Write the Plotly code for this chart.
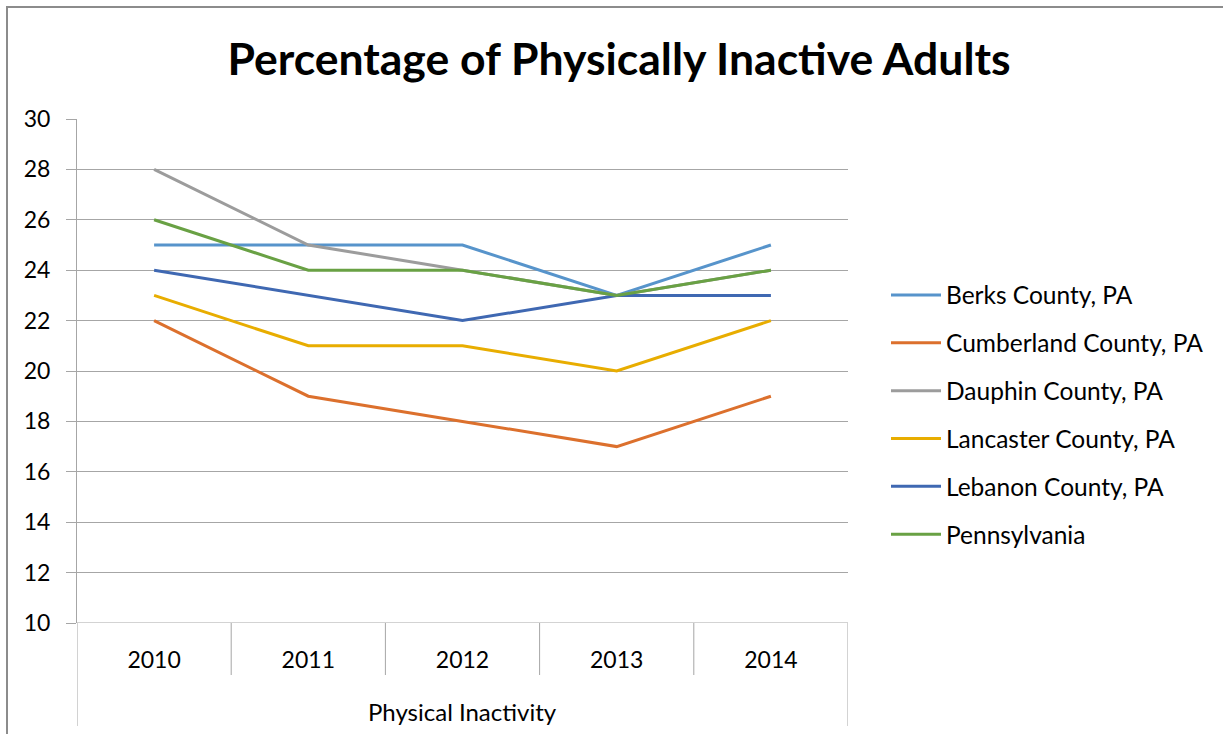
import plotly.graph_objects as go

years = ["2010", "2011", "2012", "2013", "2014"]
series_names = [
    "Berks County, PA",
    "Cumberland County, PA",
    "Dauphin County, PA",
    "Lancaster County, PA",
    "Lebanon County, PA",
    "Pennsylvania",
]
berks = [25, 25, 25, 23, 25]
cumberland = [22, 19, 18, 17, 19]
dauphin = [28, 25, 24, 23, 24]
lancaster = [23, 21, 21, 20, 22]
lebanon = [24, 23, 22, 23, 23]
pennsylvania = [26, 24, 24, 23, 24]
series_values = [berks, cumberland, dauphin, lancaster, lebanon, pennsylvania]
colors = ["#5794CB", "#DC702D", "#9C9C9C", "#E8AD00", "#3F68B2", "#69A144"]

FONT = "Lato"
GRID = "#A6A6A6"

W, H = 1223, 734
L, R, T, B = 77, 848, 119, 623  # plot area in pixels

fig = go.Figure()
for name, vals, col in zip(series_names, series_values, colors):
    fig.add_trace(go.Scatter(
        x=years, y=vals, name=name, mode="lines",
        line=dict(color=col, width=3),
        legendgroup=name,
    ))

def px_x(p):
    return (p - L) / (R - L)

def px_y(p):
    return (B - p) / (B - T)

shapes = []
# category separators below the axis
for i in range(1, len(years)):
    shapes.append(dict(type="line", xref="x", yref="paper",
                       x0=i - 0.5, x1=i - 0.5, y0=0, y1=px_y(675),
                       line=dict(color=GRID, width=1)))
# outer bracket lines spanning the group label
for xv in (-0.5, len(years) - 0.5):
    shapes.append(dict(type="line", xref="x", yref="paper",
                       x0=xv, x1=xv, y0=0, y1=px_y(726),
                       line=dict(color=GRID, width=1)))
# chart frame (left and top edges)
shapes.append(dict(type="path", xref="paper", yref="paper",
                   path=f"M{px_x(7)},{px_y(760)} L{px_x(7)},{px_y(7)} L{px_x(1240)},{px_y(7)}",
                   line=dict(color="#8C8C8C", width=2)))

fig.update_layout(
    width=W, height=H,
    margin=dict(l=L, r=W - R, t=T, b=H - B, pad=0),
    paper_bgcolor="white", plot_bgcolor="white",
    font=dict(family=FONT, color="black"),
    title=dict(text="<b>Percentage of Physically Inactive Adults</b>",
               x=619 / W, xanchor="center", xref="container",
               y=1 - 59 / H, yanchor="middle",
               font=dict(size=44.5, family=FONT, color="black")),
    xaxis=dict(type="category", range=[-0.5, len(years) - 0.5],
               showgrid=False, showline=False, zeroline=False,
               ticks="", tickfont=dict(size=23, family=FONT),
               ticklabelstandoff=21),
    yaxis=dict(range=[10, 30], dtick=2, tick0=10,
               showgrid=True, gridcolor=GRID, gridwidth=1,
               showline=True, linecolor=GRID, linewidth=1,
               ticks="outside", ticklen=10, tickcolor=GRID,
               ticklabelstandoff=11,
               zeroline=False, tickfont=dict(size=23, family=FONT)),
    legend=dict(x=px_x(886), xanchor="left", y=px_y(415), yanchor="middle",
                font=dict(size=24.5, family=FONT), tracegroupgap=13,
                itemwidth=50, bgcolor="rgba(0,0,0,0)"),
    shapes=shapes,
    annotations=[dict(text="Physical Inactivity", xref="paper", yref="paper",
                      x=0.5, y=px_y(711), xanchor="center", yanchor="middle",
                      showarrow=False, font=dict(size=24, family=FONT))],
)
# bottom axis line at y = 10
fig.add_hline(y=10, line=dict(color=GRID, width=1))

fig.write_html("out.html")
